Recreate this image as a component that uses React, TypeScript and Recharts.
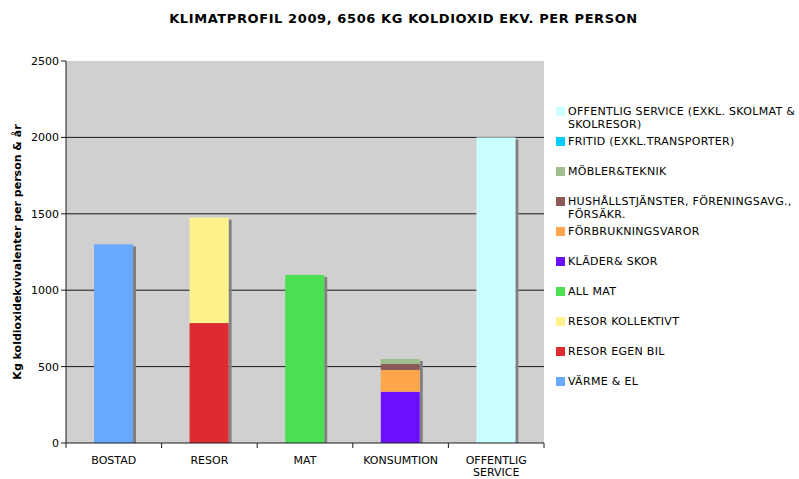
import React from 'react'
import { BarChart, Bar, XAxis, YAxis, CartesianGrid } from 'recharts'

const categories = ['BOSTAD', 'RESOR', 'MAT', 'KONSUMTION', 'OFFENTLIG SERVICE']

const varmeEl = [1300, 0, 0, 0, 0]
const resorEgenBil = [0, 785, 0, 0, 0]
const resorKollektivt = [0, 690, 0, 0, 0]
const allMat = [0, 0, 1100, 0, 0]
const kladerSkor = [0, 0, 0, 336, 0]
const forbrukningsvaror = [0, 0, 0, 142, 0]
const hushallstjanster = [0, 0, 0, 39, 0]
const moblerTeknik = [0, 0, 0, 33, 0]
const fritid = [0, 0, 0, 0, 0]
const offentligService = [0, 0, 0, 0, 2000]

const yTicks = [0, 500, 1000, 1500, 2000, 2500]

// stack order, bottom to top
const series = [
  { key: 'varme', name: 'VÄRME & EL', values: varmeEl, color: '#66A9FF' },
  { key: 'bil', name: 'RESOR EGEN BIL', values: resorEgenBil, color: '#DD2B31' },
  { key: 'koll', name: 'RESOR KOLLEKTIVT', values: resorKollektivt, color: '#FFF28C' },
  { key: 'mat', name: 'ALL MAT', values: allMat, color: '#4DE055' },
  { key: 'klader', name: 'KLÄDER& SKOR', values: kladerSkor, color: '#6A10FF' },
  { key: 'forbr', name: 'FÖRBRUKNINGSVAROR', values: forbrukningsvaror, color: '#FFA54C' },
  { key: 'hushall', name: 'HUSHÅLLSTJÄNSTER, FÖRENINGSAVG., FÖRSÄKR.', values: hushallstjanster, color: '#8C5858' },
  { key: 'mobler', name: 'MÖBLER&TEKNIK', values: moblerTeknik, color: '#A0BF8E' },
  { key: 'fritid', name: 'FRITID (EXKL.TRANSPORTER)', values: fritid, color: '#00CCFF' },
  { key: 'offentlig', name: 'OFFENTLIG SERVICE (EXKL. SKOLMAT & SKOLRESOR)', values: offentligService, color: '#CCFFFF' },
]

const data = categories.map((cat, i) => {
  const row: any = { category: cat }
  series.forEach(s => { row[s.key] = s.values[i] })
  return row
})

const FONT = '"DejaVu Sans", Verdana, sans-serif'
const PLOT_BOTTOM = 443
const PLOT_LEFT = 66
const PLOT_RIGHT = 544
const HALF_BAND = (PLOT_RIGHT - PLOT_LEFT) / categories.length / 2

const ShadowBar = (props: any) => {
  const { x, y, width, height, fill } = props
  if (!height || height <= 0) return null
  const shadowH = Math.max(0, Math.min(height, PLOT_BOTTOM - (y + 2)))
  return (
    <g>
      <rect x={x + width} y={y + 2} width={3} height={shadowH} fill="#808080" />
      <rect x={x} y={y} width={width} height={height} fill={fill} />
    </g>
  )
}

// category label plus tick marks on the category boundaries
const CategoryTick = ({ x, payload, index }: any) => {
  const words: string[] = payload.value === 'OFFENTLIG SERVICE' ? ['OFFENTLIG', 'SERVICE'] : [payload.value]
  const left = x - HALF_BAND
  const right = x + HALF_BAND
  return (
    <g>
      <line x1={left} x2={left} y1={PLOT_BOTTOM} y2={PLOT_BOTTOM + 5} stroke="#1a1a1a" />
      {index === categories.length - 1 && (
        <line x1={right} x2={right} y1={PLOT_BOTTOM} y2={PLOT_BOTTOM + 5} stroke="#1a1a1a" />
      )}
      <text x={x} y={PLOT_BOTTOM} textAnchor="middle" fontSize={11} fontFamily={FONT} fill="#000">
        {words.map((w, i) => (
          <tspan key={i} x={x} dy={i === 0 ? 21 : 12}>{w}</tspan>
        ))}
      </text>
    </g>
  )
}

const YLabel = ({ viewBox }: any) => {
  const cy = viewBox.y + viewBox.height / 2
  return (
    <text x={21} y={cy} transform={`rotate(-90, 21, ${cy})`} textAnchor="middle"
      fontSize={11} fontWeight="bold" fontFamily={FONT} fill="#000">
      Kg koldioxidekvivalenter per person &amp; år
    </text>
  )
}

function ChartLegend() {
  const items = [...series].reverse()
  return (
    <div style={{ position: 'absolute', left: 556, top: 105, width: 243, fontFamily: FONT, fontSize: 11, letterSpacing: 0.3, color: '#000' }}>
      {items.map(s => (
        <div key={s.key} style={{ height: 30, display: 'flex', alignItems: 'flex-start' }}>
          <div style={{ width: 9, height: 9, background: s.color, marginTop: 2, flex: 'none' }} />
          <div style={{ marginLeft: 3, lineHeight: '13px' }}>{s.name}</div>
        </div>
      ))}
    </div>
  )
}

export default function App() {
  return (
    <div style={{ position: 'absolute', left: 0, top: 0, width: 799, height: 479, background: '#fff' }}>
      <div style={{ position: 'absolute', left: 4, top: 11, width: 799, textAlign: 'center', fontFamily: FONT, fontSize: 13, letterSpacing: 0.6, fontWeight: 'bold' }}>
        KLIMATPROFIL 2009, 6506 KG KOLDIOXID EKV. PER PERSON
      </div>
      <BarChart width={799} height={479} data={data}
        margin={{ top: 61, right: 255, bottom: 0, left: 0 }}
        barSize={39}>
        <CartesianGrid xAxisId="cat" vertical={false} stroke="#1a1a1a" fill="#D0D0D0"
          horizontalValues={[500, 1000, 1500, 2000]} />
        {series.map(s => (
          <Bar key={s.key} xAxisId="cat" dataKey={s.key} name={s.name} stackId="a"
            fill={s.color} shape={<ShadowBar />} isAnimationActive={false} />
        ))}
        <XAxis xAxisId="cat" dataKey="category" stroke="#1a1a1a" tickLine={false}
          height={36} interval={0} tick={<CategoryTick />} />
        <YAxis domain={[0, 2500]} ticks={yTicks} width={66} tickSize={5} stroke="#1a1a1a"
          tick={{ fontSize: 11, fontFamily: FONT, fill: '#000' }} label={<YLabel />} />
      </BarChart>
      <ChartLegend />
    </div>
  )
}
